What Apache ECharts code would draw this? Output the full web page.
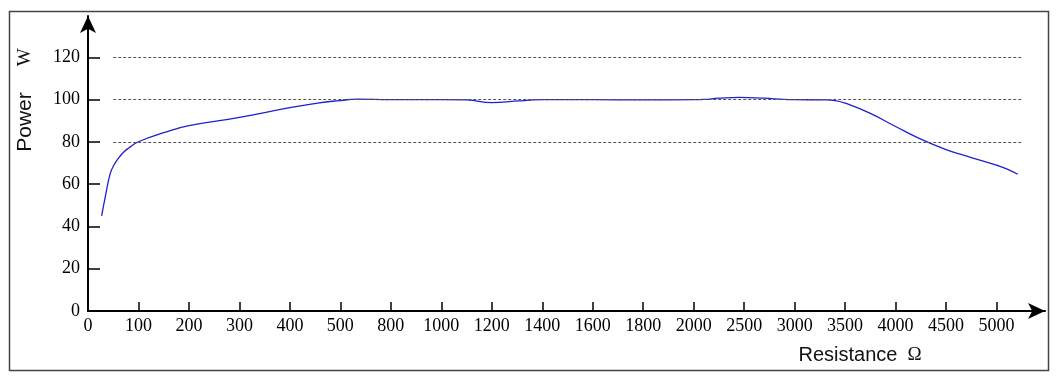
<!DOCTYPE html>
<html>
<head>
<meta charset="utf-8">
<script src="https://cdn.jsdelivr.net/npm/echarts@6/dist/echarts.min.js"></script>
<style>
html,body{margin:0;padding:0;background:#fff;}
#chart{width:1058px;height:381px;}
</style>
</head>
<body>
<div id="chart"></div>
<script>
// Tick labels of the (non-linear, equally spaced) resistance axis
const tickValues = [0,100,200,300,400,500,800,1000,1200,1400,1600,1800,2000,2500,3000,3500,4000,4500,5000];
const yTicks = [0,20,40,60,80,100,120];
const gridValues = [80,100,120];
// Curve samples
const resistance = [27,35,44,52,60,70,80,100,150,200,300,400,455,500,600,800,1000,1100,1200,1300,1400,1600,1800,2000,2100,2250,2450,2700,2900,3000,3300,3400,3500,3750,4000,4250,4500,4750,5000,5100,5210];
const power = [45,55,65,69.3,72.2,75,77,80.1,84.4,87.7,91.6,96.2,98.4,99.6,100.3,100,100,99.9,98.6,99.4,100,100,99.9,100,100.1,100.7,101.1,100.7,100.1,100,99.9,99.6,98.4,93.5,87.3,81.3,76.4,72.6,69,67.3,64.7];

// map a resistance value to the axis position (index of the equally spaced ticks)
function toPos(r){
  for(let i=0;i<tickValues.length-1;i++){
    if(r<=tickValues[i+1]) return i+(r-tickValues[i])/(tickValues[i+1]-tickValues[i]);
  }
  const n=tickValues.length-1;
  return n+(r-tickValues[n])/(tickValues[n]-tickValues[n-1]);
}
const seriesData = resistance.map((r,i)=>[toPos(r), power[i]]);
const tickPos = tickValues.map((v,i)=>i);

const serif = '"Liberation Serif","Times New Roman",serif';
const sans = '"Liberation Sans",Arial,sans-serif';

const chart = echarts.init(document.getElementById('chart'), null, {renderer:'canvas'});
chart.setOption({
  animation:false,
  backgroundColor:'#fff',
  grid:{left:88,right:13,top:16,bottom:70,containLabel:false},
  xAxis:{
    type:'value', min:0, max:18.96,
    axisLine:{show:true,symbol:['none','arrow'],symbolSize:[12,17],lineStyle:{color:'#000',width:2}},
    axisTick:{show:true,inside:true,length:9,customValues:tickPos,lineStyle:{color:'#000',width:1.5}},
    axisLabel:{customValues:tickPos,margin:6,color:'#000',fontFamily:serif,fontSize:18,
      formatter:v=>String(tickValues[Math.round(v)])},
    splitLine:{show:false}
  },
  yAxis:{
    type:'value', min:0, max:139.6,
    axisLine:{show:true,symbol:['none','arrow'],symbolSize:[12,17],lineStyle:{color:'#000',width:2}},
    axisTick:{show:true,inside:true,length:12,customValues:yTicks,lineStyle:{color:'#000',width:1.5}},
    axisLabel:{customValues:yTicks,margin:8,color:'#000',fontFamily:serif,fontSize:18},
    splitLine:{show:false}
  },
  graphic:[
    {type:'rect',shape:{x:9.5,y:11.5,width:1039,height:359},style:{fill:'none',stroke:'#444',lineWidth:1.5},silent:true},
    {type:'text',x:860,y:355,style:{rich:{a:{fontFamily:sans,fontSize:20,fill:'#111'},b:{fontFamily:serif,fontSize:19,fill:'#111',padding:[0,0,0,10]}},
      text:'{a|Resistance}{b|Ω}',align:'center',verticalAlign:'middle'}},
    {type:'text',x:25,y:100,rotation:Math.PI/2,style:{rich:{a:{fontFamily:sans,fontSize:21,fill:'#111'},b:{fontFamily:serif,fontSize:19,fill:'#111',padding:[0,0,0,26]}},
      text:'{a|Power}{b|W}',align:'center',verticalAlign:'middle'}}
  ],
  series:[{
    type:'line',
    data:seriesData,
    smooth:0.5,
    showSymbol:false,
    lineStyle:{color:'#1f1fd0',width:1.3},
    z:3,
    markLine:{
      silent:true,symbol:'none',label:{show:false},
      lineStyle:{color:'#555',type:[3,2],width:1},
      data:gridValues.map(v=>[{coord:[0.5,v]},{coord:[18.5,v]}])
    }
  }]
});
</script>
</body>
</html>
